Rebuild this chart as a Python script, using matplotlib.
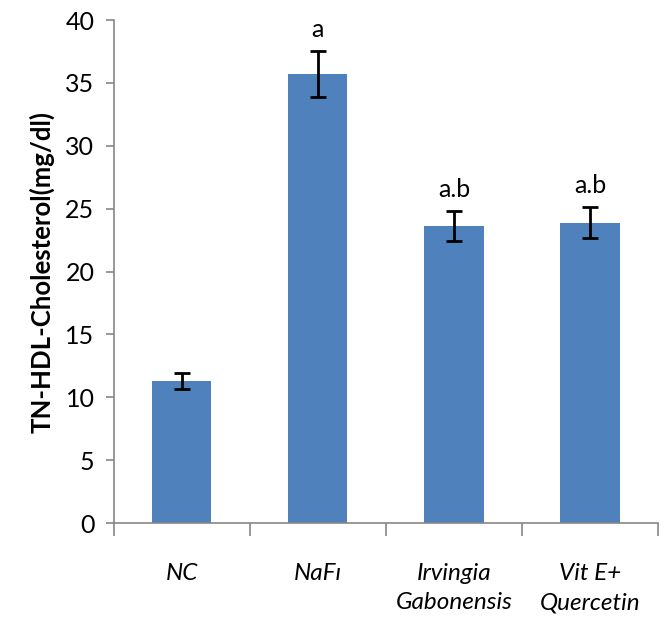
import numpy as np
import matplotlib.pyplot as plt

groups = ['NC', 'NaFı', 'Irvingia\nGabonensis', 'Vit E+\nQuercetin']
means = [11.3, 35.7, 23.6, 23.9]
errors = [0.6, 1.85, 1.2, 1.25]
letters = ['', 'a', 'a.b', 'a.b']

plt.rcParams['font.family'] = ['Lato', 'DejaVu Sans']
grey = '#868686'

fig = plt.figure(figsize=(6.7, 6.25), dpi=100)
ax = fig.add_axes([0.170, 0.163, 0.812, 0.805])

x = np.arange(len(groups))
ax.bar(x, means, width=0.435, color='#4f81bd', zorder=2)
ax.errorbar(x, means, yerr=errors, fmt='none', ecolor='black',
            elinewidth=2, capsize=6, capthick=2, zorder=3)

for xi, m, e, lab in zip(x, means, errors, letters):
    if lab:
        ax.annotate(lab, (xi, m + e), xytext=(0, 7), textcoords='offset points',
                    ha='center', va='bottom', fontsize=18)

ax.set_xlim(-0.5, 3.5)
ax.set_ylim(0, 40)
ax.set_yticks(np.arange(0, 41, 5))
ax.tick_params(axis='y', labelsize=18, length=6, color=grey, width=1.2, pad=8)

# category labels centred, tick marks between categories
ax.set_xticks(np.arange(-0.5, 3.6, 1))
ax.set_xticklabels([])
ax.tick_params(axis='x', length=9, color=grey, width=1.2)
for xi, g in zip(x, groups):
    ax.text(xi, -3.2, g, ha='center', va='top', fontsize=17.5, style='italic',
            linespacing=1.45)

ax.set_ylabel('TN-HDL-Cholesterol(mg/dl)', fontsize=18.5, fontweight='bold', labelpad=8)

ax.spines['top'].set_visible(False)
ax.spines['right'].set_visible(False)
ax.spines['left'].set_color(grey)
ax.spines['bottom'].set_color(grey)
ax.spines['left'].set_linewidth(1.2)
ax.spines['bottom'].set_linewidth(1.2)

plt.savefig('out.png', dpi=100)
